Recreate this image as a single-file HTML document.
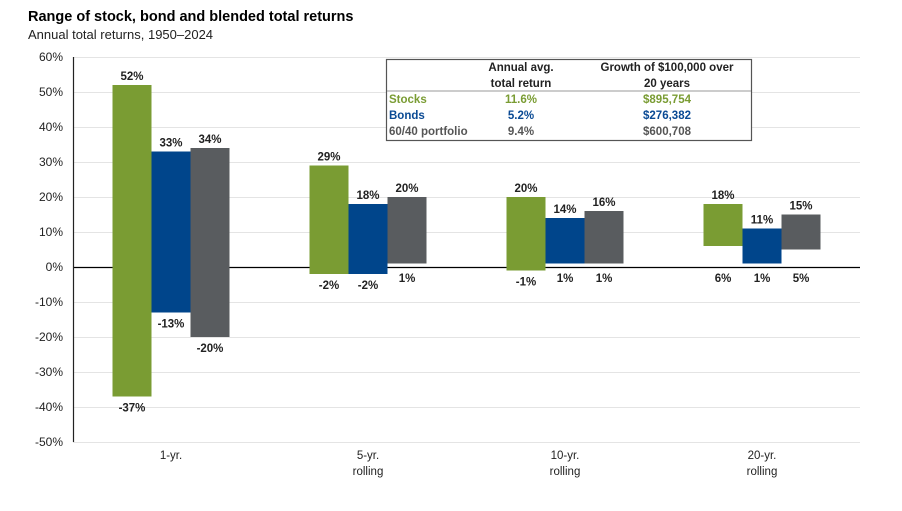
<!DOCTYPE html>
<html><head><meta charset="utf-8"><style>
body{margin:0;background:#fff;font-family:"Liberation Sans",Arial,sans-serif}
svg text{font-family:"Liberation Sans",Arial,sans-serif}
</style></head><body>
<svg id="c" width="902" height="506" xmlns="http://www.w3.org/2000/svg">
<text x="28" y="21" font-size="14.5" font-weight="bold" fill="#000">Range of stock, bond and blended total returns</text>
<text x="28" y="39" font-size="13" fill="#222">Annual total returns, 1950–2024</text>
<g id="grid"></g><g id="bars"></g>
<g>
<rect x="386.5" y="59.5" width="365" height="81" fill="#fff" stroke="#555" stroke-width="1.2"/>
<line x1="387" y1="91" x2="751" y2="91" stroke="#999" stroke-width="1"/>
<g font-size="11.5" font-weight="bold" text-anchor="middle">
<text x="521" y="71" fill="#222">Annual avg.</text><text x="521" y="87" fill="#222">total return</text>
<text x="667" y="71" fill="#222">Growth of $100,000 over</text><text x="667" y="87" fill="#222">20 years</text>
<text x="389" y="103" text-anchor="start" fill="#7a9c33">Stocks</text><text x="521" y="103" fill="#7a9c33">11.6%</text><text x="667" y="103" fill="#7a9c33">$895,754</text>
<text x="389" y="119" text-anchor="start" fill="#0a4a94">Bonds</text><text x="521" y="119" fill="#0a4a94">5.2%</text><text x="667" y="119" fill="#0a4a94">$276,382</text>
<text x="389" y="135" text-anchor="start" fill="#555">60/40 portfolio</text><text x="521" y="135" fill="#555">9.4%</text><text x="667" y="135" fill="#555">$600,708</text>
</g></g>
</svg>
<script>
const categories=["1-yr.","5-yr.|rolling","10-yr.|rolling","20-yr.|rolling"];
const stocksHigh=[52,29,20,18];
const stocksLow=[-37,-2,-1,6];
const bondsHigh=[33,18,14,11];
const bondsLow=[-13,-2,1,1];
const blendHigh=[34,20,16,15];
const blendLow=[-20,1,1,5];
const yTicks=[60,50,40,30,20,10,0,-10,-20,-30,-40,-50];
const NS="http://www.w3.org/2000/svg";
const y=v=>267-v*3.5;
const xc=i=>171+i*197;
const BW=39;
function mk(t,a,p){const e=document.createElementNS(NS,t);for(const k in a)e.setAttribute(k,a[k]);p.appendChild(e);return e;}
const grid=document.getElementById('grid'),bars=document.getElementById('bars');
yTicks.forEach(v=>{
 const l=mk('line',{x1:73,x2:860,y1:y(v)+.5,y2:y(v)+.5,stroke:v===0?'#000':'#e4e4e4','stroke-width':v===0?1.2:1},grid);
 
 
 const t=mk('text',{x:63,y:y(v)+4,'font-size':12,'text-anchor':'end',fill:'#222'},grid);
 t.textContent=v+'%';
 
 
});
const ax=mk('line',{x1:73.5,x2:73.5,y1:y(60),y2:y(-50),stroke:'#222','stroke-width':1.2},grid);


const series=[["stocks",stocksHigh,stocksLow,"#7a9c33"],["bonds",bondsHigh,bondsLow,"#00458b"],["blend",blendHigh,blendLow,"#595c5f"]];
categories.forEach((c,i)=>{
 series.forEach((s,j)=>{
  const x0=xc(i)-58.5+j*BW,hi=s[1][i],lo=s[2][i];
  const r=mk('rect',{x:x0,y:y(hi),width:BW,height:y(lo)-y(hi),fill:s[3]},bars);
  
  
  const t1=mk('text',{x:x0+BW/2,y:y(hi)-5,'font-size':11.5,'font-weight':'bold','text-anchor':'middle',fill:'#222'},bars);
  t1.textContent=hi+'%';
  
  
  const t2=mk('text',{x:x0+BW/2,y:Math.max(y(lo),y(0))+15,'font-size':11.5,'font-weight':'bold','text-anchor':'middle',fill:'#222'},bars);
  t2.textContent=lo+'%';
  
  
 });
 c.split('|').forEach((ln,k)=>{
  const t=mk('text',{x:xc(i),y:459+k*16,'font-size':11.5,'text-anchor':'middle',fill:'#222'},bars);
  t.textContent=ln;
  
  
 });
});
</script>
</body></html>
